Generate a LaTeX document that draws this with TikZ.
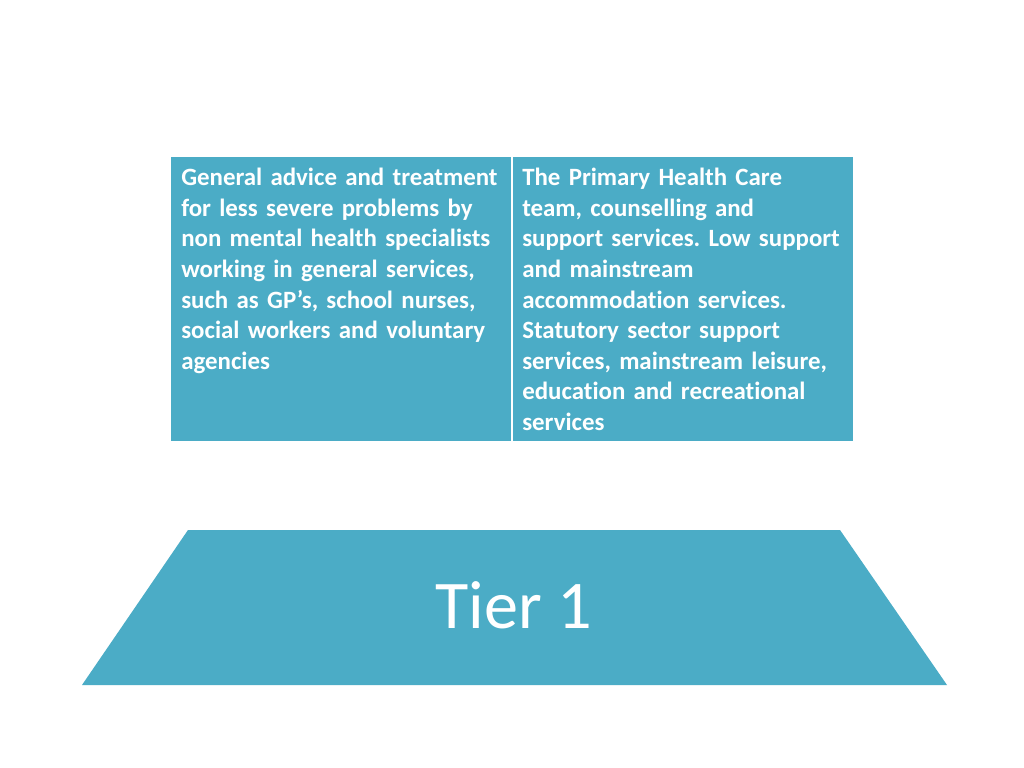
\documentclass[tikz,border=0pt]{standalone}
\usepackage{fontspec}
\setmainfont{Carlito}[Ligatures=NoCommon,WordSpace=0.6]
\newfontfamily\tierfont{Carlito}
\usetikzlibrary{positioning}
\definecolor{tierblue}{HTML}{4BACC6}
\frenchspacing

\begin{document}
\begin{tikzpicture}[x=0.025cm,y=-0.025cm,
    cell/.style={fill=tierblue,draw=none,minimum width=340*0.025cm,minimum height=284*0.025cm,inner sep=0pt,anchor=north west},
    celltext/.style={text=white,font=\fontsize{17.7}{21.75}\selectfont\bfseries,align=left,text width=332*0.025cm,inner sep=0pt,anchor=north west}]
    \useasboundingbox[fill=white] (0,0) rectangle (1024,768);
    % table of the two columns
    \node[cell] (left) at (171,157) {};
    \node[cell] (right) at (513,157) {};
    \node[celltext] (lefttext) at ([xshift=10*0.025cm,yshift=-11*0.025cm]left.north west)
        {General advice and treatment\\for less severe problems by\\non mental health specialists\\working in general services,\\such as GP’s, school nurses,\\social workers and voluntary\\agencies};
    \node[celltext] (righttext) at ([xshift=9*0.025cm,yshift=-11*0.025cm]right.north west)
        {The Primary Health Care\\team, counselling and\\support services. Low support\\and mainstream\\accommodation services.\\Statutory sector support\\services, mainstream leisure,\\education and recreational\\services};
    % the tier
    \fill[tierblue] (188,530) -- (840,530) -- (947,685) -- (82,685) -- cycle;
    \node[text=white,font=\tierfont\fontsize{48.5}{58}\selectfont] (tier) at (514,605) {Tier 1};
\end{tikzpicture}
\end{document}
